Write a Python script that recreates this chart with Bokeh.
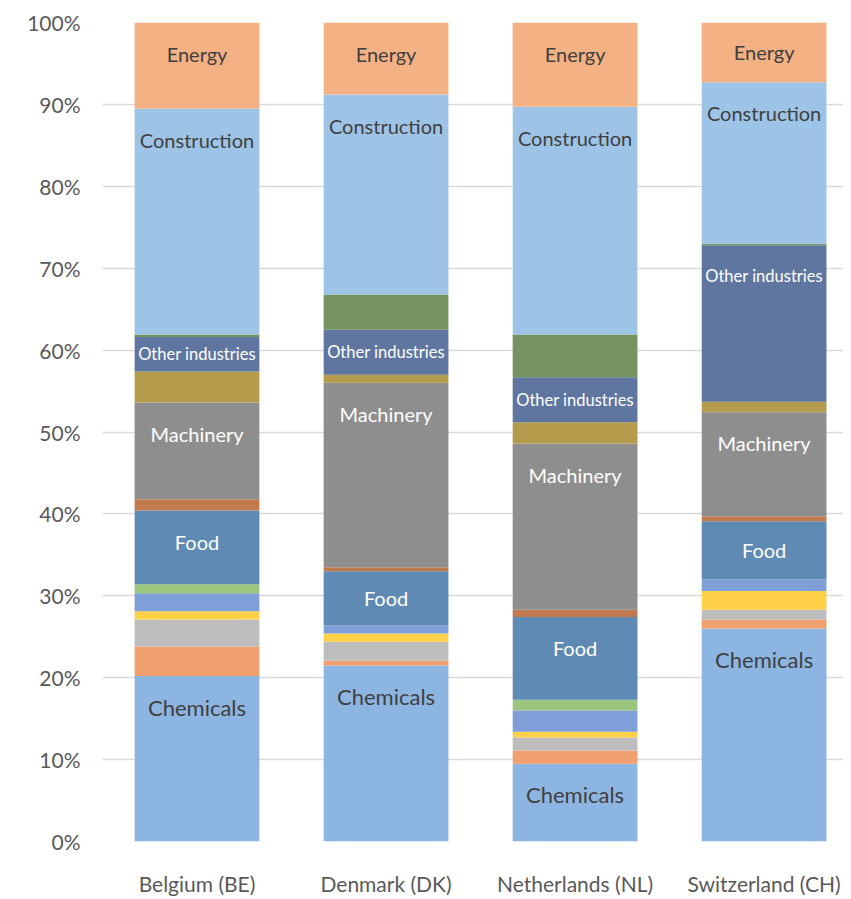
from bokeh.plotting import figure
from bokeh.models import ColumnDataSource, Range1d, FixedTicker
from bokeh.core.properties import value
from bokeh.embed import file_html
from bokeh.resources import INLINE

# ---- data (percent of total) ----
countries = ["Belgium (BE)", "Denmark (DK)", "Netherlands (NL)", "Switzerland (CH)"]
chemicals = [20.2, 21.5, 9.5, 26.0]
sector_orange = [3.6, 0.6, 1.6, 1.1]
sector_gray = [3.3, 2.3, 1.6, 1.2]
sector_yellow = [1.0, 1.0, 0.7, 2.3]
sector_blue = [2.2, 1.0, 2.6, 1.4]
sector_green = [1.1, 0.0, 1.3, 0.0]
food = [9.0, 6.6, 10.1, 7.1]
sector_brown = [1.4, 0.5, 0.9, 0.6]
machinery = [11.8, 22.5, 20.3, 12.7]
sector_olive = [3.8, 1.0, 2.6, 1.3]
other_industries = [4.2, 5.5, 5.5, 19.1]
sector_darkgreen = [0.3, 4.3, 5.2, 0.2]
construction = [27.6, 24.4, 27.8, 19.7]
energy = [10.5, 8.8, 10.3, 7.3]

y_ticks = [0, 10, 20, 30, 40, 50, 60, 70, 80, 90, 100]

series_names = ["chemicals", "orange", "gray", "yellow", "blue", "green", "food",
                "brown", "machinery", "olive", "other", "darkgreen", "construction", "energy"]
series_vals = [chemicals, sector_orange, sector_gray, sector_yellow, sector_blue, sector_green,
               food, sector_brown, machinery, sector_olive, other_industries, sector_darkgreen,
               construction, energy]
colors = ["#8DB5E2", "#F0A06E", "#BDBDBD", "#FFD147", "#7F9FD9", "#9BC47C", "#5F8AB3",
          "#C07A4E", "#8E8E8E", "#B59B4C", "#5F76A0", "#76925E", "#9DC3E6", "#F4B183"]

# labelled segments: (series name, text, text color, font size)
labelled = {
    "chemicals": ("Chemicals", "#404040", "22px"),
    "food": ("Food", "#FFFFFF", "20px"),
    "machinery": ("Machinery", "#FFFFFF", "20px"),
    "other": ("Other industries", "#FFFFFF", "16.5px"),
    "construction": ("Construction", "#404040", "20px"),
    "energy": ("Energy", "#404040", "20px"),
}

xs = list(range(len(countries)))
data = {"x": xs}
for n, v in zip(series_names, series_vals):
    data[n] = v
source = ColumnDataSource(data)

p = figure(frame_width=741, frame_height=819, output_backend="svg", toolbar_location=None,
           x_range=Range1d(-0.5, 3.42), y_range=Range1d(0, 100),
           min_border_left=102, min_border_right=0, min_border_top=22, min_border_bottom=40)
p.outline_line_color = None
p.background_fill_color = "white"
p.border_fill_color = "white"

p.vbar_stack(series_names, x="x", width=0.66, color=colors, line_color=None, source=source)

# labels inside segments
for n, v in zip(series_names, series_vals):
    if n not in labelled:
        continue
    txt, col, fs = labelled[n]
    idx = series_names.index(n)
    lx, ly = [], []
    for i in xs:
        top = sum(series_vals[k][i] for k in range(idx + 1))
        h = series_vals[idx][i]
        lx.append(i)
        ly.append(top - min(h / 2.0, 3.8))
    p.text(x=lx, y=ly, text=[txt] * len(lx), text_align="center", text_baseline="middle",
           text_color=col, text_font=value("Lato"), text_font_size=fs)

# axes
p.yaxis.ticker = FixedTicker(ticks=y_ticks)
p.yaxis.major_label_overrides = {t: f"{t}%" for t in y_ticks}
p.yaxis.axis_line_color = None
p.yaxis.major_tick_line_color = None
p.yaxis.minor_tick_line_color = None
p.yaxis.major_label_standoff = 16
p.yaxis.major_label_text_font = "Lato"
p.yaxis.major_label_text_font_size = "21px"
p.yaxis.major_label_text_color = "#595959"

p.xaxis.ticker = FixedTicker(ticks=xs)
p.xaxis.major_label_overrides = {i: c for i, c in zip(xs, countries)}
p.xaxis.axis_line_color = None
p.xaxis.major_tick_line_color = None
p.xaxis.minor_tick_line_color = None
p.xaxis.major_label_standoff = 23
p.xaxis.major_label_text_font = "Lato"
p.xaxis.major_label_text_font_size = "21px"
p.xaxis.major_label_text_color = "#595959"

p.xgrid.grid_line_color = None
p.ygrid.ticker = FixedTicker(ticks=y_ticks)
p.ygrid.grid_line_color = "#D9D9D9"
p.ygrid.grid_line_width = 1.3

open("out.html", "w").write(file_html(p, INLINE))
